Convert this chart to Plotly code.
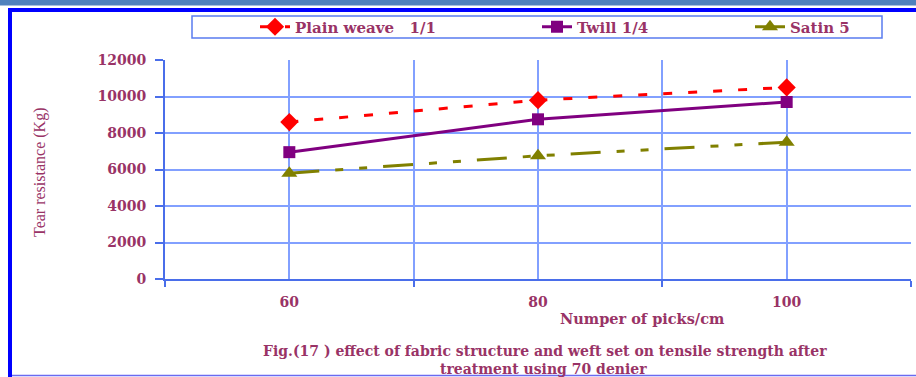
import plotly.graph_objects as go

# ---- data ----
picks = [60, 80, 100]
plain_weave = [8600, 9800, 10500]
twill = [6950, 8750, 9700]
satin = [5800, 6750, 7500]
series_names = ["Plain\u00a0weave\u00a0\u00a0 1/1", "Twill 1/4", "Satin 5"]
y_ticks = [0, 2000, 4000, 6000, 8000, 10000, 12000]
y_ticktext = ["0", "2000", "4000", "6000", "8000", "10000", "12000"]

W, H = 916, 377
L, R, T, B = 165, 911, 60, 279
TXT = "#993366"
SERIF_B = "DejaVu Serif"
GRID = "#82A0FF"
AXIS = "#4A6EEA"


def px_x(p):
    return (p - L) / (R - L)


def px_y(p):
    return (B - p) / (B - T)


fig = go.Figure()
fig.add_trace(go.Scatter(
    x=picks, y=plain_weave, name=series_names[0], mode="lines+markers",
    line=dict(color="#FF0000", width=3, dash="9px,16px"),
    marker=dict(symbol="diamond", size=14, color="#FF0000"),
    legend="legend"))
fig.add_trace(go.Scatter(
    x=picks, y=twill, name=series_names[1], mode="lines+markers",
    line=dict(color="#800080", width=3),
    marker=dict(symbol="square", size=12, color="#800080"),
    legend="legend2"))
fig.add_trace(go.Scatter(
    x=picks, y=satin, name=series_names[2], mode="lines+markers",
    line=dict(color="#808000", width=3, dash="30px,16px,8px,16px,8px,16px"),
    marker=dict(symbol="triangle-up", size=14, color="#808000"),
    legend="legend3"))

leg_common = dict(orientation="h", yanchor="middle", xanchor="left",
                  bgcolor="rgba(0,0,0,0)", borderwidth=0,
                  font=dict(family=SERIF_B, size=15, color=TXT, weight="bold"))
fig.update_layout(
    legend=dict(x=px_x(255), y=px_y(27), **leg_common),
    legend2=dict(x=px_x(537), y=px_y(27), **leg_common),
    legend3=dict(x=px_x(750), y=px_y(27), **leg_common),
)

fig.update_layout(
    width=W, height=H,
    margin=dict(l=L, r=W - R, t=T, b=H - B),
    paper_bgcolor="white", plot_bgcolor="white",
    showlegend=True,
    xaxis=dict(
        range=[50, 110], tickvals=picks, ticktext=[str(v) for v in picks],
        ticks="outside", ticklen=0, ticklabelstandoff=9,
        showgrid=True, gridcolor=GRID, gridwidth=2,
        showline=True, linecolor=AXIS, linewidth=2, zeroline=False,
        tickfont=dict(family=SERIF_B, size=14, color=TXT, weight="bold"),
        minor=dict(tickvals=[50, 70, 90, 110], ticks="outside", ticklen=6,
                   tickcolor=AXIS, tickwidth=2,
                   showgrid=True, gridcolor=GRID, gridwidth=2),
    ),
    yaxis=dict(
        range=[0, 12000], tickvals=y_ticks, ticktext=y_ticktext,
        ticks="outside", ticklen=8, tickcolor=AXIS, tickwidth=2,
        ticklabelstandoff=6,
        showgrid=True, gridcolor=GRID, gridwidth=2,
        showline=True, linecolor=AXIS, linewidth=2, zeroline=False,
        tickfont=dict(family=SERIF_B, size=14, color=TXT, weight="bold"),
    ),
)

shapes = [
    dict(type="rect", xref="paper", yref="paper", x0=px_x(0), x1=px_x(W),
         y0=px_y(0), y1=px_y(5.5), fillcolor="#4F81BD", line=dict(width=0)),
    dict(type="rect", xref="paper", yref="paper", x0=px_x(8), x1=px_x(W),
         y0=px_y(8), y1=px_y(12), fillcolor="#0000FF", line=dict(width=0)),
    dict(type="rect", xref="paper", yref="paper", x0=px_x(8), x1=px_x(12),
         y0=px_y(8), y1=px_y(H), fillcolor="#0000FF", line=dict(width=0)),
    dict(type="line", xref="paper", yref="paper", x0=px_x(12), x1=px_x(W),
         y0=px_y(375.5), y1=px_y(375.5), line=dict(color="#6A6AF0", width=1.5)),
    dict(type="rect", xref="paper", yref="paper", x0=px_x(192), x1=px_x(882),
         y0=px_y(16), y1=px_y(38), line=dict(color="#5A7CF0", width=1.5)),
]
fig.update_layout(shapes=shapes)

annotations = [
    dict(text="Tear resistance (Kg)", x=px_x(40), y=px_y(173), textangle=-90,
         font=dict(family="Liberation Serif", size=16, color=TXT)),
    dict(text="Numper of picks/cm", x=px_x(642), y=px_y(318),
         font=dict(family=SERIF_B, size=14.5, color=TXT, weight="bold")),
    dict(text="Fig.(17 ) effect of fabric structure and weft set on tensile strength after",
         x=px_x(545), y=px_y(351),
         font=dict(family=SERIF_B, size=14, color=TXT, weight="bold")),
    dict(text="treatment using 70 denier", x=px_x(543), y=px_y(368.5),
         font=dict(family=SERIF_B, size=14, color=TXT, weight="bold")),
]
for a in annotations:
    a.update(xref="paper", yref="paper", showarrow=False,
             xanchor="center", yanchor="middle")
fig.update_layout(annotations=annotations)

fig.write_html("out.html")
